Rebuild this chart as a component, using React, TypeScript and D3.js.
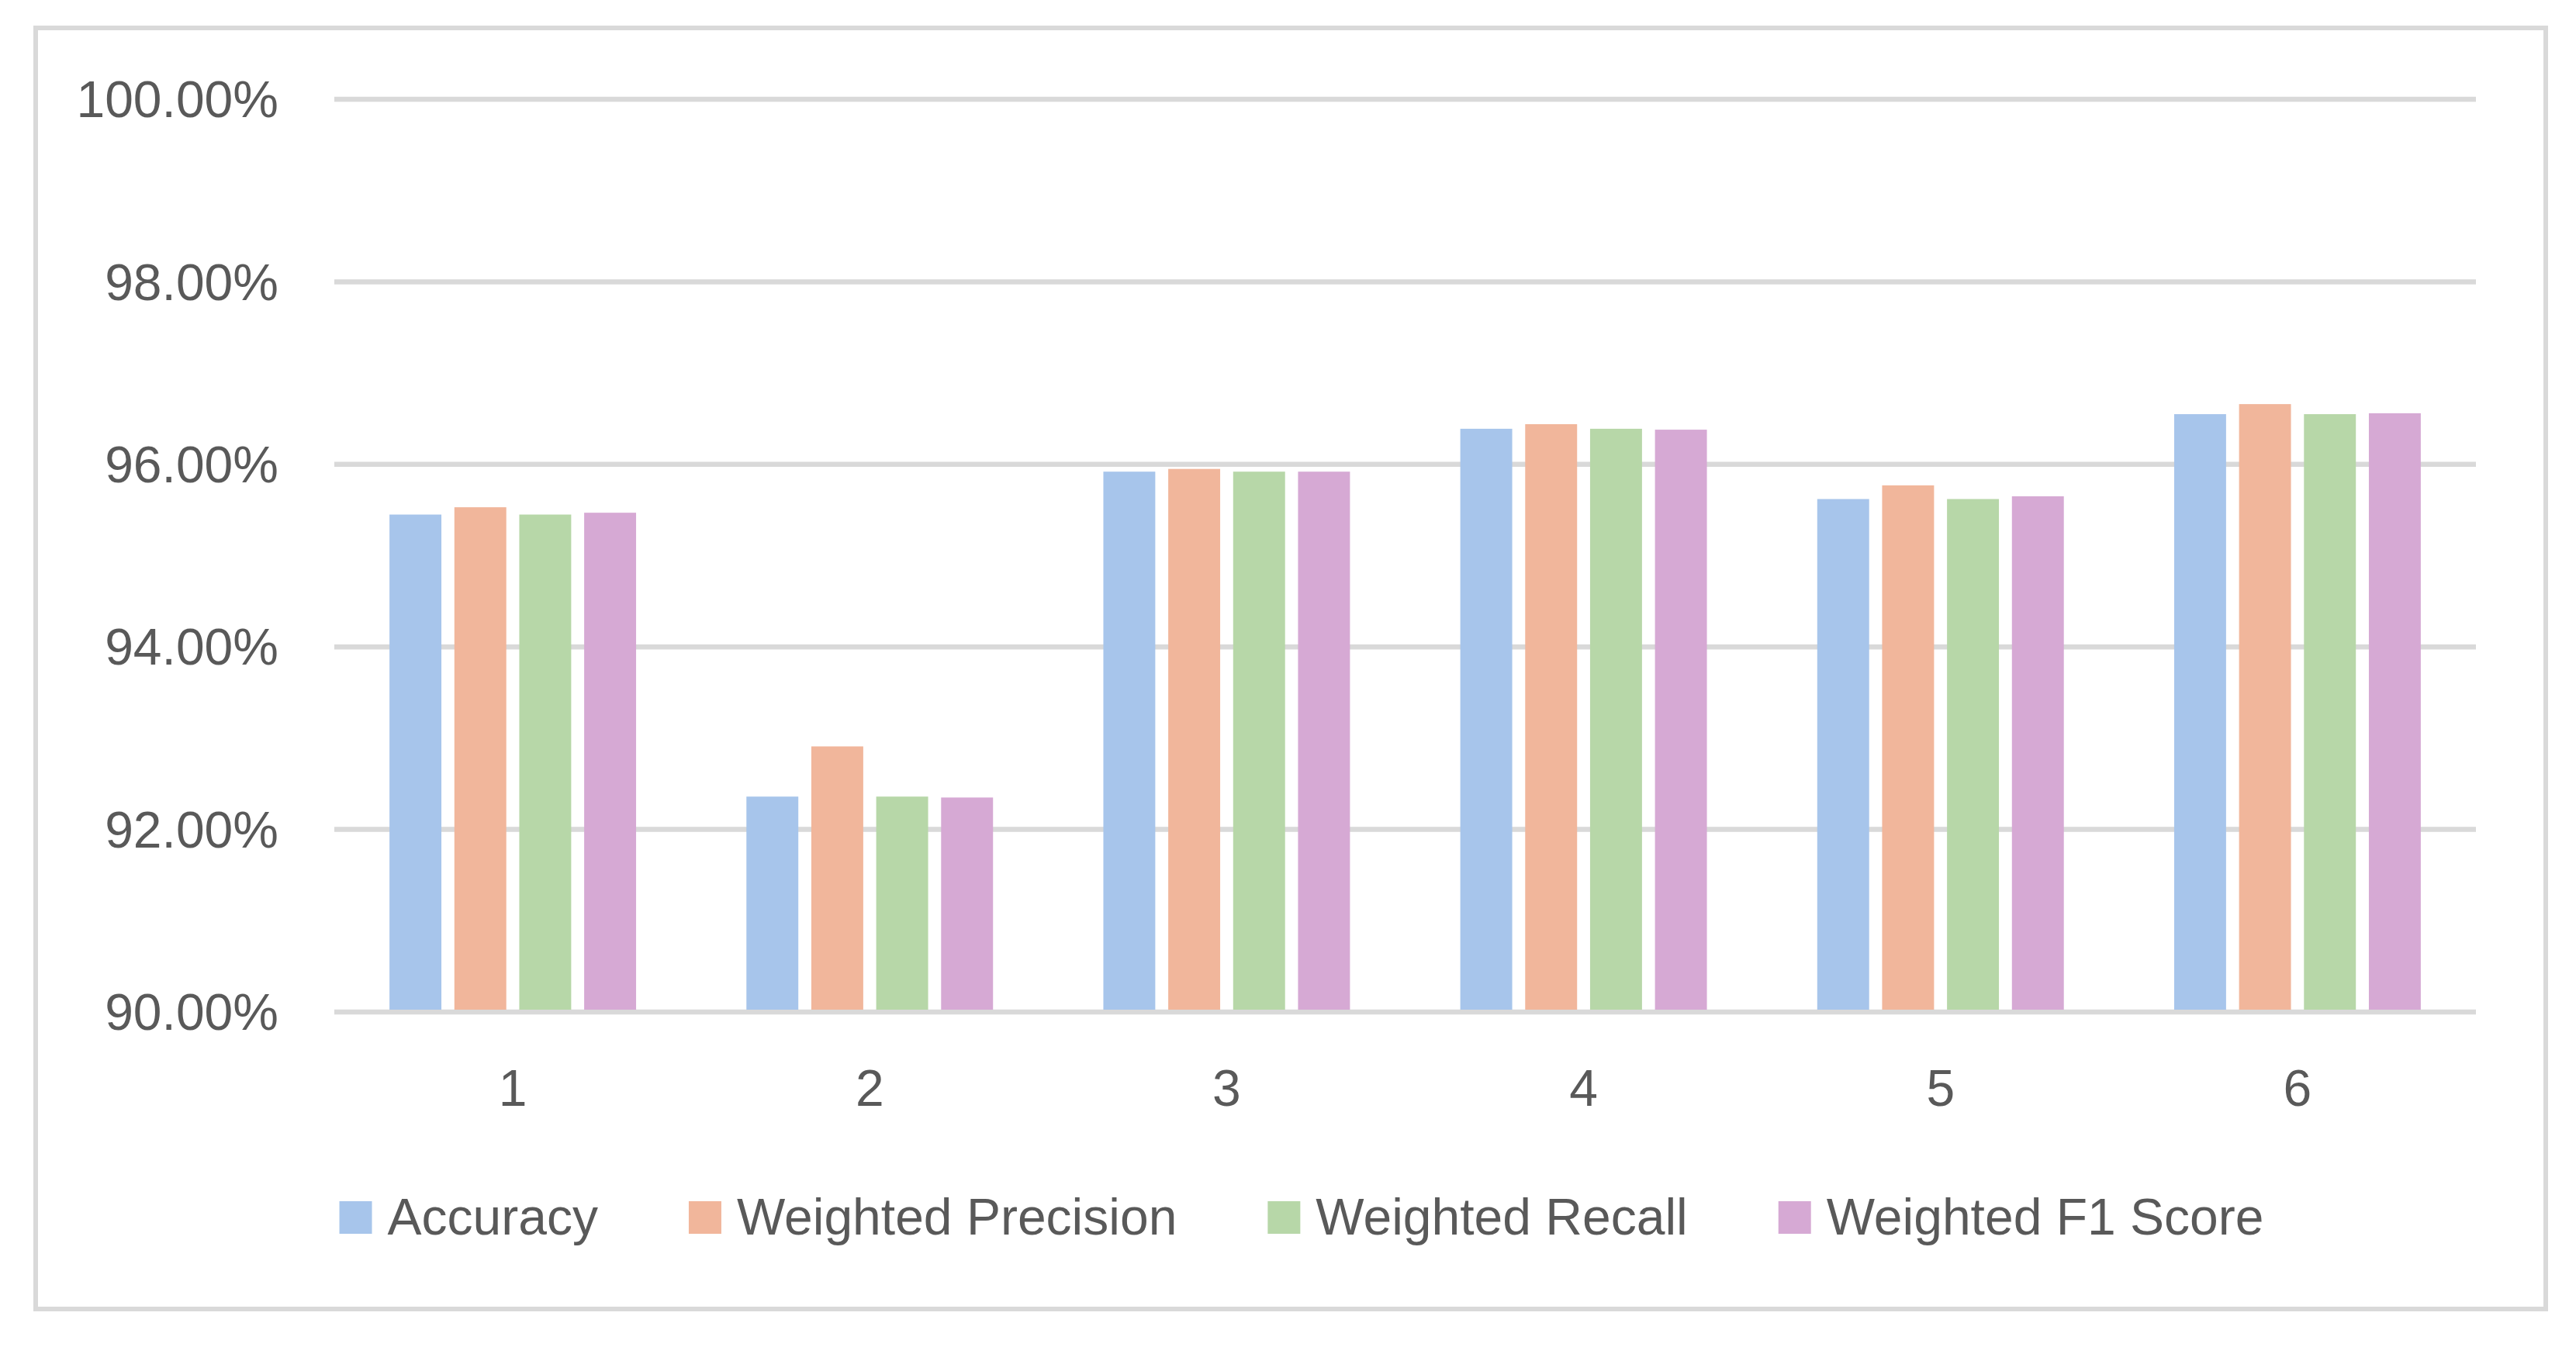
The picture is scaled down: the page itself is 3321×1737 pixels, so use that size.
import * as d3 from "d3";

const categories = ["1", "2", "3", "4", "5", "6"];
const seriesNames = ["Accuracy", "Weighted Precision", "Weighted Recall", "Weighted F1 Score"];
const seriesColors = ["#A7C5EB", "#F1B69B", "#B7D7A8", "#D6A9D4"];

const accuracy = [0.9545, 0.9236, 0.9592, 0.9639, 0.9562, 0.9655];
const weightedPrecision = [0.9553, 0.9291, 0.9595, 0.9644, 0.9577, 0.9666];
const weightedRecall = [0.9545, 0.9236, 0.9592, 0.9639, 0.9562, 0.9655];
const weightedF1 = [0.9547, 0.9235, 0.9592, 0.9638, 0.9565, 0.9656];

const yTicks = [0.9, 0.92, 0.94, 0.96, 0.98, 1.0];

const seriesValues = [accuracy, weightedPrecision, weightedRecall, weightedF1];

const W = 3321;
const H = 1737;
const FONT = "'Liberation Sans', Arial, sans-serif";
const FS = 66;
const TEXT = "#595959";
const GRID = "#d9d9d9";

const measure = (txt: string) => {
     const c = document.createElement("canvas").getContext("2d");
     if (!c) return txt.length * FS * 0.5;
     c.font = `${FS}px 'Liberation Sans'`;
     return c.measureText(txt).width;
};

export default function App() {
     const plot = { left: 431, right: 3192, top: 128, bottom: 1305 };

     // one band per run number, bars inside
     const x0 = d3.scaleBand<string>()
          .domain(categories)
          .range([plot.left, plot.right])
          .padding(0);
     const x1 = d3.scaleBand<string>()
          .domain(seriesNames)
          .range([0, x0.bandwidth()])
          .paddingInner(0.2)
          .paddingOuter(0.85);
     const y = d3.scaleLinear()
          .domain([0.9, 1.0])
          .range([plot.bottom, plot.top]);
     const fmt = d3.format(".2%");

     // legend layout, centered in the chart frame
     const box = 42;
     const boxGap = 20;
     const itemGap = 117;
     const widths = seriesNames.map(measure);
     const itemW = widths.map((w) => box + boxGap + w);
     const total = d3.sum(itemW) + itemGap * (seriesNames.length - 1);
     let lx = 1678 - total / 2;
     const legendX = itemW.map((w) => {
          const cur = lx;
          lx += w + itemGap;
          return cur;
     });
     const legendY = 1549;

     return (
          <svg
               width={W}
               height={H}
               style={{ position: "absolute", left: 0, top: 0, background: "#fff" }}
               fontFamily={FONT}
          >
               <rect x={0} y={0} width={W} height={H} fill="#fff" />
               <rect x={46} y={36} width={3282 - 46} height={1688 - 36} fill="#fff" stroke={GRID} strokeWidth={6} />

               {yTicks.map((t) => (
                    <g key={t}>
                         <line x1={plot.left} x2={plot.right} y1={y(t)} y2={y(t)} stroke={GRID} strokeWidth={6.5} />
                         <text x={359} y={y(t)} dy="0.35em" textAnchor="end" fontSize={FS} fill={TEXT}>
                              {fmt(t)}
                         </text>
                    </g>
               ))}

               {categories.map((c, ci) => (
                    <g key={c} transform={`translate(${x0(c)},0)`}>
                         {seriesNames.map((s, si) => {
                              const v = seriesValues[si][ci];
                              return (
                                   <rect
                                        key={s}
                                        x={x1(s)}
                                        y={y(v)}
                                        width={x1.bandwidth()}
                                        height={y(0.9) - y(v) - 3}
                                        fill={seriesColors[si]}
                                   />
                              );
                         })}
                         <text x={x0.bandwidth() / 2} y={1426} textAnchor="middle" fontSize={FS} fill={TEXT}>
                              {c}
                         </text>
                    </g>
               ))}

               {seriesNames.map((s, i) => (
                    <g key={s} transform={`translate(${legendX[i]},${legendY})`}>
                         <rect x={0} y={0} width={box} height={box} fill={seriesColors[i]} />
                         <text x={box + boxGap} y={43} fontSize={FS} fill={TEXT}>
                              {s}
                         </text>
                    </g>
               ))}
          </svg>
     );
}
